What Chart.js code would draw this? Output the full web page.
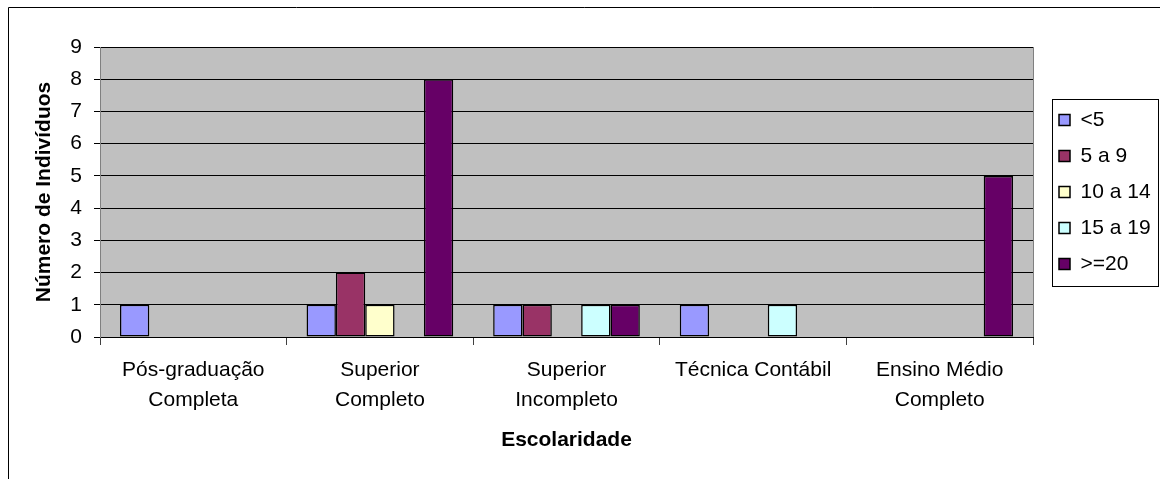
<!DOCTYPE html>
<html>
<head>
<meta charset="utf-8">
<script src="https://cdn.jsdelivr.net/npm/chart.js@4"></script>
<style>
  html, body { margin: 0; padding: 0; background: #fff; }
  #wrap { width: 1160px; height: 479px; }
</style>
</head>
<body>
<div id="wrap"><canvas id="escolaridade-chart" width="1160" height="479"></canvas></div>
<script>
// categorias e valores
const categories = [
    ['Pós-graduação', 'Completa'],
    ['Superior', 'Completo'],
    ['Superior', 'Incompleto'],
    'Técnica Contábil',
    ['Ensino Médio', 'Completo'],
];
const seriesNames = ['<5', '5 a 9', '10 a 14', '15 a 19', '>=20'];
const menos5 = [1, 1, 1, 1, 0];
const de5a9 = [0, 2, 1, 0, 0];
const de10a14 = [0, 1, 0, 0, 0];
const de15a19 = [0, 0, 1, 1, 0];
const mais20 = [0, 8, 1, 0, 5];
const yTicks = [0, 1, 2, 3, 4, 5, 6, 7, 8, 9];

const colors = ['#9999FF', '#993366', '#FFFFCC', '#CCFFFF', '#660066'];
const values = [menos5, de5a9, de10a14, de15a19, mais20];

const font = '"Liberation Sans", Arial, sans-serif';
Chart.defaults.color = '#000';
Chart.defaults.font.family = font;

// fundo cinza da área do gráfico, moldura externa e caixa da legenda
const excelLook = {
    id: 'excelLook',
    afterInit(chart) {
        const lg = chart.legend;
        const fit = lg.fit;
        lg.fit = function () {
            fit.call(this);
            this.width = 116;
        };
    },
    beforeDraw(chart) {
        const c = chart.ctx;
        const a = chart.chartArea;
        c.save();
        c.strokeStyle = '#000';
        c.lineWidth = 1;
        c.beginPath();
        c.moveTo(8.5, chart.height);
        c.lineTo(8.5, 7.5);
        c.lineTo(chart.width, 7.5);
        c.stroke();
        c.fillStyle = '#C0C0C0';
        c.fillRect(a.left, a.top, a.right - a.left, a.bottom - a.top);
        c.restore();
    },
    beforeDatasetsDraw(chart) {
        const c = chart.ctx;
        const a = chart.chartArea;
        c.save();
        c.strokeStyle = '#808080';
        c.lineWidth = 1;
        c.beginPath();
        c.moveTo(Math.round(a.right) + 0.5, a.top);
        c.lineTo(Math.round(a.right) + 0.5, a.bottom);
        c.stroke();
        c.restore();
    },
    afterDraw(chart) {
        const lg = chart.legend;
        const hb = lg.legendHitBoxes;
        if (!hb || !hb.length) return;
        const last = hb[hb.length - 1];
        const top = Math.round(hb[0].top - 11) + 0.5;
        const bottom = Math.round(last.top + last.height + 11) + 0.5;
        const left = Math.round(lg.left + 8) + 0.5;
        const right = Math.round(lg.right - 2) + 0.5;
        const c = chart.ctx;
        c.save();
        c.strokeStyle = '#000';
        c.lineWidth = 1;
        c.strokeRect(left, top, right - left, bottom - top);
        c.restore();
    },
};

const ctx = document.getElementById('escolaridade-chart').getContext('2d');

const escolaridadeChart = new Chart(ctx, {
    type: 'bar',
    data: {
        labels: categories,
        datasets: seriesNames.map((name, i) => ({
            label: name,
            data: values[i],
            backgroundColor: colors[i],
            borderColor: '#000',
            borderWidth: 1.5,
            borderSkipped: false,
            categoryPercentage: 0.786,
            barPercentage: 1.0,
        })),
    },
    options: {
        responsive: false,
        animation: false,
        layout: { padding: { top: 47, left: 0, right: 0, bottom: 0 } },
        plugins: {
            tooltip: { enabled: false },
            legend: {
                position: 'right',
                fullSize: false,
                labels: {
                    boxWidth: 11,
                    boxHeight: 11,
                    padding: 15,
                    font: { size: 21, family: font },
                    color: '#000',
                },
            },
        },
        scales: {
            x: {
                grid: {
                    offset: true,
                    drawOnChartArea: false,
                    drawTicks: true,
                    tickLength: 8,
                    color: '#404040',
                },
                border: { color: '#000', width: 1 },
                ticks: {
                    font: { size: 21, family: font, lineHeight: 1.43 },
                    color: '#000',
                    padding: 10,
                    maxRotation: 0,
                    autoSkip: false,
                },
                title: {
                    display: true,
                    text: 'Escolaridade',
                    font: { size: 21, weight: 'bold', family: font },
                    color: '#000',
                    padding: { top: 0, bottom: 26 },
                },
                afterFit(scale) { scale.height = 142; },
            },
            y: {
                min: 0,
                max: 9,
                afterBuildTicks(scale) {
                    scale.ticks = yTicks.map(v => ({ value: v }));
                },
                grid: {
                    color: '#000',
                    lineWidth: 1,
                    drawTicks: true,
                    tickLength: 6,
                },
                border: { color: '#808080', width: 1 },
                ticks: {
                    font: { size: 21, family: font },
                    color: '#000',
                    padding: 12,
                },
                title: {
                    display: true,
                    text: 'Número de Indivíduos',
                    font: { size: 21, weight: 'bold', family: font },
                    color: '#000',
                    padding: { top: 32, bottom: 0 },
                },
                afterFit(scale) { scale.width = 100; },
            },
            gap: {
                type: 'linear',
                position: 'right',
                display: true,
                grid: { display: false },
                border: { display: false },
                ticks: { display: false },
                afterFit(scale) { scale.width = 11; },
            },
        },
    },
    plugins: [excelLook],
});
</script>
</body>
</html>
